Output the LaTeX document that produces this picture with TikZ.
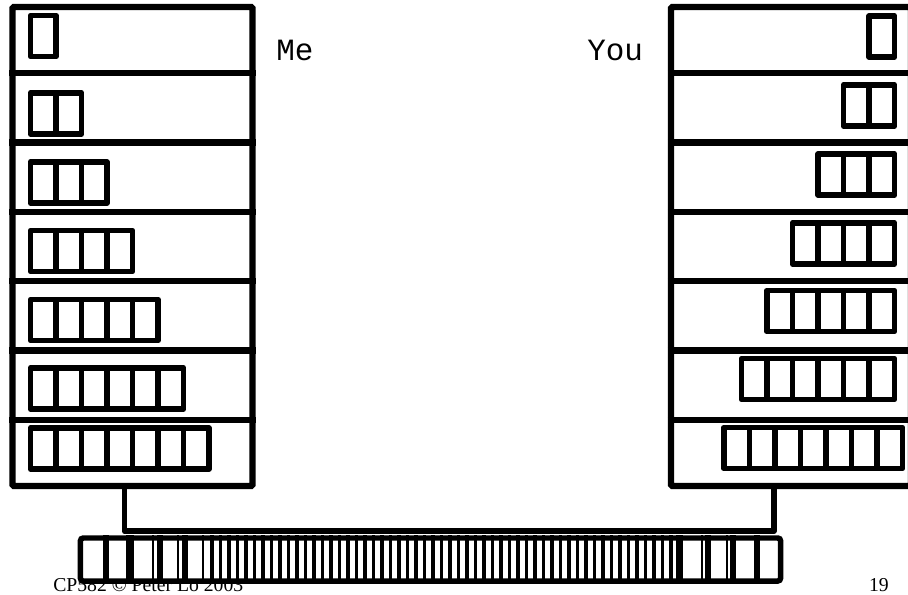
\documentclass[tikz,border=0pt]{standalone}
\usepackage{fontspec}
\setmainfont{Liberation Serif}
\newfontfamily\couriertxt{Liberation Mono}
\usetikzlibrary{calc}

\begin{document}
\begin{tikzpicture}[
		x=0.025cm, y=-0.025cm,
		stack/.style={rectangle, draw=black, line width=4.4pt, minimum width=6cm, minimum height=11.975cm, rounded corners=1pt},
		rowline/.style={line width=4.4pt},
		pkt/.style={draw=black, line width=4.1pt, line join=round},
		bus/.style={rectangle, draw=black, fill=white, line width=3.9pt, minimum width=17.5cm, minimum height=1.075cm, rounded corners=2pt},
		tick/.style={line width=3.9pt},
		thintick/.style={line width=1.8pt},
		densetick/.style={line width=2.6pt},
		wire/.style={line width=3.9pt, line join=round},
		who/.style={font=\couriertxt\fontsize{22}{26}\selectfont, inner sep=0pt},
		foot/.style={font=\fontsize{14}{17}\selectfont, inner sep=0pt}
		]
		\useasboundingbox (0,0) rectangle (908,594);
		
		% --- HAI NGĂN XẾP ---
		\node[stack] (me) at (132.5,246.5) {};
		\node[stack] (you) at (791,246.5) {};
		\foreach \i in {1,...,6} {
			\draw[rowline] ($(me.north west)!\i/7!(me.south west)$) -- ($(me.north east)!\i/7!(me.south east)$);
			\draw[rowline] ($(you.north west)!\i/7!(you.south west)$) -- ($(you.north east)!\i/7!(you.south east)$);
		}
		
		% --- GÓI TIN TRONG MỖI TẦNG ---
		\foreach \n/\yl/\yr in {1/36/36.5, 2/113.5/105.5, 3/182.5/174.5, 4/251/243.5, 5/320/311, 6/388.5/379, 7/448.5/448} {
			\pgfmathsetmacro{\xr}{\n==7 ? 902.5 : 894.5}
			\foreach \k in {1,...,\n} {
				\draw[pkt] (30.5+25.5*\k-25.5,\yl-20.5) rectangle ++(25.5,41);
				\draw[pkt] (\xr-25.5*\k,\yr-20.5) rectangle ++(25.5,41);
			}
		}
		
		% --- NHÃN ---
		\node[who, anchor=base west] (melabel) at (276,60) {Me};
		\node[who, anchor=base west] (youlabel) at (587,60) {You};
		\node[foot, anchor=base west] (credit) at (53,591) {CP582 © Peter Lo 2003};
		\node[foot, anchor=base east] (page) at (889,591) {19};
		
		% --- ĐƯỜNG NỐI ---
		\coordinate (meport) at ($(me.south west)!0.467!(me.south east)$);
		\coordinate (youport) at ($(you.south west)!0.431!(you.south east)$);
		\draw[wire] (meport) -- ++(0,42) -| (youport);
		
		% --- DẢI GÓI TIN PHÍA DƯỚI ---
		\node[bus] (bus) at (430.5,559.5) {};
		\foreach \x in {106,131,160,185,680,708,733,757}
			\draw[tick] (\x,0 |- bus.north) -- (\x,0 |- bus.south);
		\foreach \x in {127,153,178,203,677,702,727}
			\draw[thintick] (\x,0 |- bus.north) -- (\x,0 |- bus.south);
		\foreach \k in {0,...,54}
			\draw[densetick] (212+8.5*\k,0 |- bus.north) -- (212+8.5*\k,0 |- bus.south);
		
	\end{tikzpicture}
\end{document}
